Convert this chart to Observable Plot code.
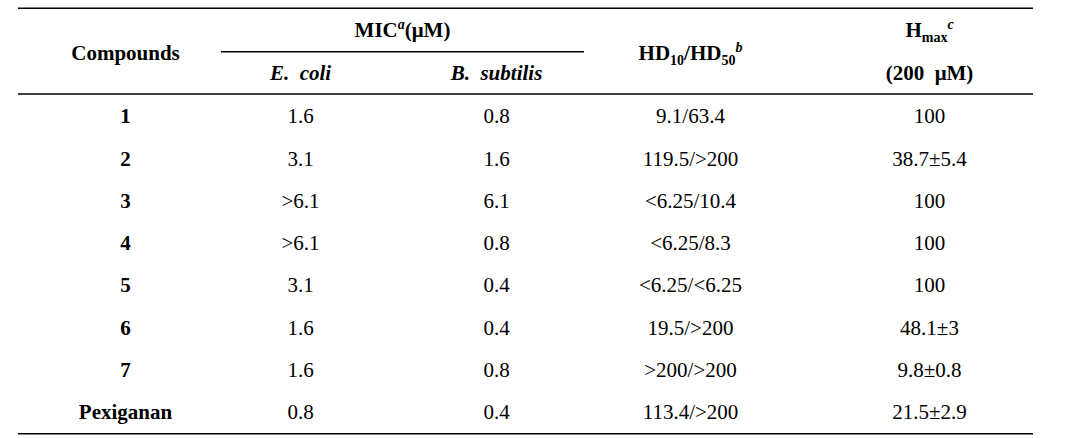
<!DOCTYPE html>
<html>
<head>
<meta charset="utf-8">
<script src="https://cdn.jsdelivr.net/npm/d3@7"></script>
<script src="https://cdn.jsdelivr.net/npm/@observablehq/plot@0.6"></script>
<style>
  html, body { margin: 0; padding: 0; background: #fff; }
  svg text { white-space: pre; }
</style>
</head>
<body>
<div id="chart"></div>
<script>
// ---- data ----
const compounds = ["1", "2", "3", "4", "5", "6", "7", "Pexiganan"];
const micEcoli  = ["1.6", "3.1", ">6.1", ">6.1", "3.1", "1.6", "1.6", "0.8"];
const micBsub   = ["0.8", "1.6", "6.1", "0.8", "0.4", "0.4", "0.8", "0.4"];
const hdValues  = ["9.1/63.4", "119.5/>200", "<6.25/10.4", "<6.25/8.3", "<6.25/<6.25", "19.5/>200", ">200/>200", "113.4/>200"];
const hmaxValues = ["100", "38.7±5.4", "100", "100", "100", "48.1±3", "9.8±0.8", "21.5±2.9"];

// header labels (^{..} superscript, _{..} subscript)
const headerLabels = ["Compounds", "MIC^{a}(μM)", "E.  coli", "B.  subtilis", "HD_{10}/HD_{50}^{b}", "H_{max}^{c}", "(200  μM)"];

// ---- layout ----
const W = 1069, H = 438, FS = 21;
const FONT = "Liberation Serif, Tinos, DejaVu Serif, Times New Roman, serif";
const colX = [125, 300, 496, 690, 929];           // column centres
const headerCol   = [0, 1.5, 1, 2, 3, 4, 4];        // column index (1.5 = spanning MIC)
const headerLevel = [-1.5, -2.03, -1.03, -1.03, -1.5, -2.03, -1.03];
const headerItalic = [false, false, true, true, false, false, false];
const colPos = c => Number.isInteger(c) ? colX[c] : 402;

const cells = [];
const columns = [compounds, micEcoli, micBsub, hdValues, hmaxValues];
columns.forEach((col, j) => col.forEach((t, i) => cells.push({x: colX[j], y: i, text: t, bold: j === 0})));

const headers = headerLabels.map((t, k) => ({x: colPos(headerCol[k]), y: headerLevel[k], text: t, italic: headerItalic[k]}));

const rules = [
  {y: -2.56, x1: 18, x2: 1033, w: 1.6},
  {y: -1.53, x1: 221, x2: 584, w: 1.3},
  {y: -0.53, x1: 18, x2: 1033, w: 1.6},
  {y: 7.5,  x1: 18, x2: 1033, w: 1.6}
];

const textOpts = {x: "x", y: "y", text: "text", fill: "#000", fontSize: FS, fontFamily: FONT};

const chart = Plot.plot({
  width: W, height: H, margin: 0,
  x: {type: "linear", domain: [0, W], range: [0, W], axis: null},
  y: {type: "linear", domain: [-2.742, 7.612], range: [0, H], axis: null},
  style: {fontFamily: FONT, fontSize: FS + "px", background: "#fff", color: "#000"},
  marks: [
    Plot.ruleY(rules, {y: "y", x1: "x1", x2: "x2", stroke: "#000", strokeWidth: "w"}),
    Plot.text(cells.filter(d => d.bold), {...textOpts, fontWeight: "bold"}),
    Plot.text(cells.filter(d => !d.bold), textOpts),
    Plot.text(headers.filter(d => !d.italic), {...textOpts, fontWeight: "bold"}),
    Plot.text(headers.filter(d => d.italic), {...textOpts, fontWeight: "bold", fontStyle: "italic"})
  ]
});

// rich text: super/subscripts as tspans
d3.select(chart).selectAll("text").each(function() {
  const s = this.textContent;
  if (!/[\^_]\{/.test(s)) return;
  const parts = s.split(/(\^\{[^}]*\}|_\{[^}]*\})/).filter(p => p.length);
  const el = d3.select(this);
  el.text(null);
  let off = 0;
  parts.forEach(p => {
    let target = 0, txt = p, small = false, ital = false;
    if (p.startsWith("^{")) { target = -8; txt = p.slice(2, -1); small = true; ital = true; }
    else if (p.startsWith("_{")) { target = 5; txt = p.slice(2, -1); small = true; }
    const ts = el.append("tspan").attr("dy", target - off).text(txt);
    if (small) ts.attr("font-size", 14);
    if (ital) ts.attr("font-style", "italic");
    off = target;
  });
});

document.getElementById("chart").appendChild(chart);
</script>
</body>
</html>
